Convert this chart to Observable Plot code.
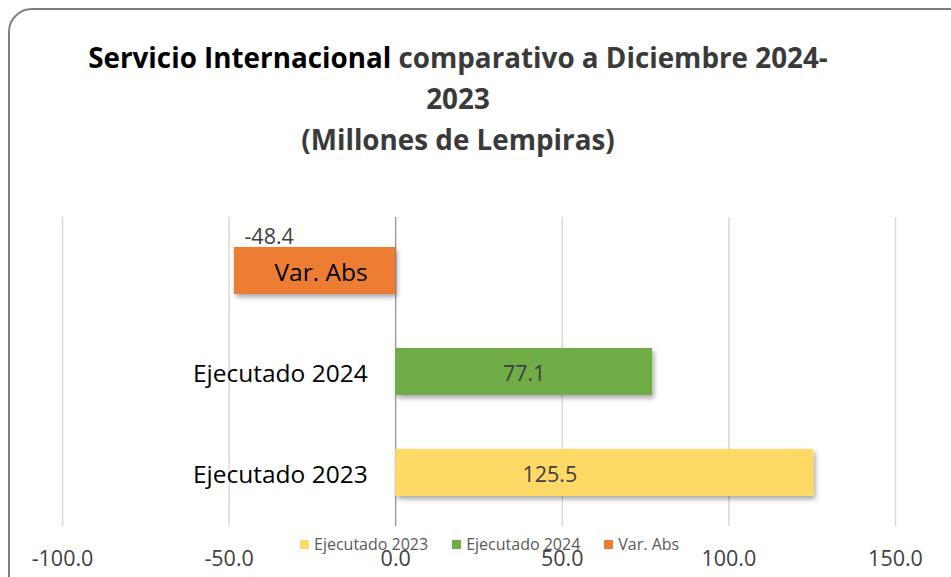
<!DOCTYPE html>
<html>
<head>
<meta charset="utf-8">
<script src="https://cdn.jsdelivr.net/npm/d3@7"></script>
<script src="https://cdn.jsdelivr.net/npm/@observablehq/plot@0.6"></script>
<style>
  html, body { margin: 0; padding: 0; background: #fff; overflow: hidden; }
  body { width: 951px; height: 577px; position: relative; font-family: "Open Sans", "Noto Sans", sans-serif; }
  #frame { position: absolute; left: 8px; top: 8px; width: 970px; height: 600px; border: 2px solid #7f7f7f; border-radius: 24px; box-sizing: border-box; }
  #title { position: absolute; left: 0; top: 37px; width: 916px; text-align: center; font-weight: 700; font-size: 27.8px; line-height: 41px; color: #000; white-space: nowrap; }
  #title .g { color: #3a3a3a; }
  #chart { position: absolute; left: 0; top: 170px; }
  #legend { position: absolute; top: 533px; left: 300px; display: flex; gap: 24px; font-size: 16px; color: #595959; }
  #legend span.it { display: flex; align-items: center; }
  #legend i { display: inline-block; width: 9px; height: 9px; margin-right: 5px; }
</style>
</head>
<body>
<div id="frame"></div>
<div id="title"><span>Servicio Internacional</span> <span class="g">comparativo a Diciembre 2024-</span><br><span class="g">2023</span><br><span class="g">(Millones de Lempiras)</span></div>
<div id="chart"></div>
<div id="legend"></div>
<script>
const categories = ["Var. Abs", "Ejecutado 2024", "Ejecutado 2023"];
const values = [-48.4, 77.1, 125.5];
const colors = ["#ED7D31", "#70AD47", "#FFD966"];
const legendOrder = ["Ejecutado 2023", "Ejecutado 2024", "Var. Abs"];
const xTicks = [-100, -50, 0, 50, 100, 150];

const data = categories.map((c, i) => ({category: c, value: values[i], color: colors[i]}));
const fmt = v => v.toFixed(1);

const plot = Plot.plot({
  width: 951,
  height: 407,
  marginTop: 47,
  marginBottom: 51,
  marginLeft: 62,
  marginRight: 56,
  style: {fontFamily: "'Open Sans', 'Noto Sans', sans-serif", background: "transparent"},
  x: {domain: [-100, 150], ticks: xTicks},
  y: {domain: categories, paddingInner: 0.537, paddingOuter: 0.29, axis: null},
  marks: [
    Plot.gridX(xTicks.filter(t => t !== 0), {stroke: "#d9d9d9", strokeOpacity: 1, strokeWidth: 1.5}),
    Plot.ruleX([0], {stroke: "#8c8c8c", strokeWidth: 1.2}),
    Plot.axisX(xTicks, {tickSize: 0, tickPadding: 24, tickFormat: fmt, fontSize: 21.5, fill: "#404040", label: null}),
    Plot.barX(data, {x: "value", y: "category", fill: "color"}),
    Plot.text(categories, {x: 0, y: d => d, text: d => d, textAnchor: "end", dx: -28, dy: 2, fontSize: 24.5, fill: "#000"}),
    Plot.text(data.filter(d => d.value < 0), {x: "value", y: "category", text: d => fmt(d.value), textAnchor: "start", dx: 10, dy: -34, fontSize: 21.5, fill: "#404040"}),
    Plot.text(data.filter(d => d.category === "Ejecutado 2024"), {x: d => d.value / 2, y: "category", text: d => fmt(d.value), dy: 2, fontSize: 21.5, fill: "#404040"}),
    Plot.text(data.filter(d => d.category === "Ejecutado 2023"), {x: d => d.value / 2, y: "category", text: d => fmt(d.value), dx: -55, dy: 2, fontSize: 21.5, fill: "#404040"})
  ]
});

// drop shadow for bars
const ns = "http://www.w3.org/2000/svg";
const defs = document.createElementNS(ns, "defs");
defs.innerHTML = '<filter id="sh" x="-10%" y="-30%" width="130%" height="180%"><feDropShadow dx="2" dy="3" stdDeviation="2.5" flood-color="#000" flood-opacity="0.35"/></filter>';
plot.insertBefore(defs, plot.firstChild);
plot.querySelectorAll('g[aria-label="bar"]').forEach(g => g.setAttribute("filter", "url(#sh)"));

document.getElementById("chart").appendChild(plot);

const legend = document.getElementById("legend");
legendOrder.forEach(name => {
  const i = categories.indexOf(name);
  const it = document.createElement("span");
  it.className = "it";
  it.innerHTML = `<i style="background:${colors[i]}"></i>${name}`;
  legend.appendChild(it);
});
</script>
</body>
</html>
